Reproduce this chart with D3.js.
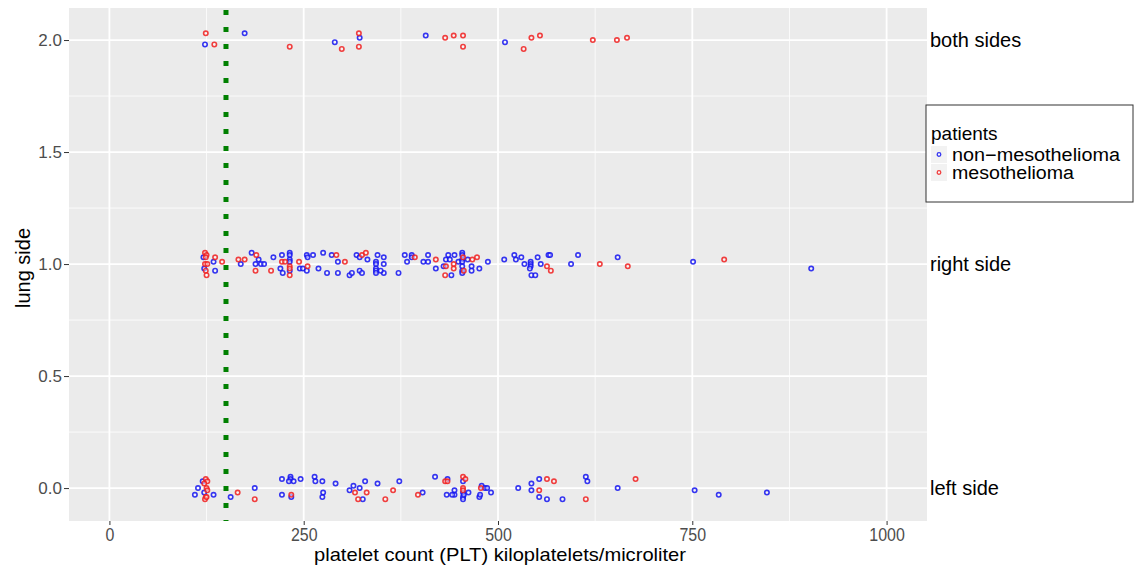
<!DOCTYPE html>
<html>
<head>
<meta charset="utf-8">
<script src="https://cdn.jsdelivr.net/npm/d3@7"></script>
<style>
  body { margin: 0; background: #fff; }
  svg { font-family: "Liberation Sans", Arial, sans-serif; }
</style>
</head>
<body>
<div id="chart"></div>
<script>
const width = 1139;
const height = 567;

// [platelet count, jittered lung side]
const bothBlue = [[174, 2.03], [123, 1.98], [290, 1.99], [322, 2.01], [407, 2.02], [509, 1.99]];
const bothRed = [[124, 2.03], [135, 1.98], [232, 1.97], [299, 1.96], [321, 2.03], [321, 1.97],
  [432, 2.01], [443, 2.02], [455, 2.02], [455, 1.97], [533, 1.96], [543, 2.01], [554, 2.02],
  [622, 2.0], [653, 2.0], [666, 2.01]];

const rightBlue = [[121, 1.03], [134, 1.01], [122, 0.98], [136, 0.97], [169, 1.0], [183, 1.05],
  [192, 1.02], [188, 1.0], [195, 1.0], [199, 1.0], [211, 1.03], [222, 1.04], [220, 0.98],
  [223, 0.96], [232, 1.05], [232, 1.04], [232, 1.02], [232, 1.01], [232, 0.97], [245, 0.98],
  [249, 0.98], [254, 0.97], [254, 1.04], [255, 1.03], [262, 1.04], [275, 1.05], [269, 0.98],
  [286, 1.04], [294, 1.01], [280, 0.96], [294, 0.96], [309, 0.95], [318, 1.04], [322, 1.03],
  [322, 0.97], [312, 0.96], [325, 0.96], [332, 1.02], [345, 1.04], [343, 1.01], [343, 1.0],
  [343, 0.98], [343, 0.97], [343, 0.96], [353, 1.03], [353, 1.0], [353, 0.96], [349, 0.97],
  [372, 0.96], [380, 1.04], [389, 1.04], [389, 1.03], [383, 1.01], [404, 1.01], [410, 1.01],
  [410, 1.04], [420, 0.98], [430, 0.99], [433, 1.02], [436, 1.04], [444, 1.04], [438, 1.02],
  [440, 0.95], [449, 1.01], [454, 1.05], [454, 1.04], [454, 1.02], [454, 1.01], [454, 0.99],
  [454, 0.97], [454, 0.96], [461, 1.02], [466, 0.99], [466, 0.97], [476, 0.98], [487, 1.01],
  [508, 1.02], [521, 1.04], [523, 1.02], [530, 1.03], [534, 1.0], [542, 1.01], [542, 1.0],
  [542, 0.99], [543, 0.95], [548, 0.95], [541, 0.98], [551, 1.03], [555, 1.0], [565, 1.04],
  [567, 1.04], [594, 1.0], [603, 1.04], [654, 1.03], [751, 1.01], [903, 0.98]];
const rightRed = [[123, 1.05], [125, 1.04], [124, 1.03], [123, 1.0], [126, 1.0], [124, 0.97],
  [125, 0.95], [136, 1.03], [145, 1.01], [166, 1.02], [174, 1.02], [189, 1.04], [188, 0.97],
  [208, 0.97], [222, 1.01], [226, 1.01], [232, 0.99], [232, 0.98], [232, 0.95], [244, 1.01],
  [255, 0.99], [292, 1.04], [303, 1.01], [325, 1.04], [330, 1.05], [393, 1.03], [420, 1.02],
  [433, 0.99], [432, 0.95], [443, 1.0], [443, 0.98], [455, 1.03], [456, 0.97], [467, 1.02],
  [473, 1.03], [563, 0.99], [568, 0.97], [631, 1.0], [667, 0.99], [791, 1.02]];

const leftBlue = [[120, 0.03], [114, 0.0], [122, -0.02], [110, -0.03], [134, -0.03], [156, -0.04],
  [187, 0.0], [222, 0.04], [233, 0.05], [233, 0.04], [237, 0.03], [231, 0.03], [246, 0.04],
  [222, -0.03], [234, -0.04], [264, 0.05], [265, 0.03], [274, 0.03], [291, 0.02], [275, -0.02],
  [274, -0.04], [309, -0.01], [314, 0.01], [322, 0.0], [326, -0.05], [329, 0.03], [345, 0.02],
  [373, 0.03], [403, -0.02], [419, 0.05], [435, 0.04], [434, -0.03], [444, -0.01], [444, -0.03],
  [441, -0.03], [455, 0.03], [455, -0.02], [455, -0.04], [455, -0.05], [456, -0.03], [462, -0.02],
  [479, 0.01], [483, 0.0], [486, 0.0], [476, -0.04], [477, -0.03], [491, -0.02], [526, 0.0],
  [543, 0.02], [543, -0.01], [553, 0.04], [553, -0.04], [563, -0.05], [583, -0.05], [613, 0.05],
  [615, 0.03], [654, 0.0], [753, -0.01], [784, -0.03], [846, -0.02]];
const leftRed = [[124, 0.04], [126, 0.03], [122, 0.02], [125, 0.0], [126, -0.01], [124, -0.04],
  [123, -0.05], [125, -0.04], [165, -0.02], [187, -0.05], [234, -0.03], [316, -0.02], [320, -0.05],
  [331, -0.02], [355, -0.05], [365, -0.01], [397, -0.03], [432, 0.03], [435, 0.03], [455, 0.05],
  [458, 0.04], [455, 0.0], [455, -0.01], [478, 0.0], [563, 0.04], [572, 0.03], [553, -0.01],
  [613, -0.05], [677, 0.04]];

const xTicks = [0, 250, 500, 750, 1000];
const xMinor = [125, 375, 625, 875];
const yTicks = [0, 0.5, 1, 1.5, 2];
const yMinor = [0.25, 0.75, 1.25, 1.75];
const sideLabels = [[2, 'both sides'], [1, 'right side'], [0, 'left side']];
const groups = ['non\u2212mesothelioma', 'mesothelioma'];
const cutoff = 150;

const blue = 'rgba(20,20,240,0.85)';
const red = 'rgba(240,30,30,0.85)';

const panel = { left: 69, right: 927, top: 8, bottom: 521 };
const x = d3.scaleLinear().domain([-52, 1052]).range([panel.left, panel.right]);
const y = d3.scaleLinear().domain([-0.147, 2.143]).range([panel.bottom, panel.top]);

const svg = d3.create('svg').attr('width', width).attr('height', height);

svg.append('rect')
  .attr('x', panel.left).attr('y', panel.top)
  .attr('width', panel.right - panel.left).attr('height', panel.bottom - panel.top)
  .attr('fill', '#ebebeb');

const grid = svg.append('g').attr('stroke', '#fff');
grid.selectAll('line.xminor').data(xMinor).join('line')
  .attr('x1', x).attr('x2', x).attr('y1', panel.top).attr('y2', panel.bottom)
  .attr('stroke-width', 0.8);
grid.selectAll('line.yminor').data(yMinor).join('line')
  .attr('y1', y).attr('y2', y).attr('x1', panel.left).attr('x2', panel.right)
  .attr('stroke-width', 0.8);
grid.selectAll('line.xmajor').data(xTicks).join('line')
  .attr('x1', x).attr('x2', x).attr('y1', panel.top).attr('y2', panel.bottom)
  .attr('stroke-width', 1.8);
grid.selectAll('line.ymajor').data(yTicks).join('line')
  .attr('y1', y).attr('y2', y).attr('x1', panel.left).attr('x2', panel.right)
  .attr('stroke-width', 1.8);

// cutoff line
svg.append('line')
  .attr('x1', x(cutoff)).attr('x2', x(cutoff))
  .attr('y1', panel.top + 2).attr('y2', panel.bottom)
  .attr('stroke', '#008000').attr('stroke-width', 5)
  .attr('stroke-dasharray', '5 12');

function drawPoints(data, color) {
  svg.append('g').selectAll('circle').data(data).join('circle')
    .attr('cx', (d) => x(d[0]))
    .attr('cy', (d) => y(d[1]))
    .attr('r', 2.2)
    .attr('fill', 'rgba(255,255,255,0.5)')
    .attr('stroke', color)
    .attr('stroke-width', 1.6);
}
drawPoints(bothBlue, blue);
drawPoints(rightBlue, blue);
drawPoints(leftBlue, blue);
drawPoints(bothRed, red);
drawPoints(rightRed, red);
drawPoints(leftRed, red);

// axes
const xAxis = d3.axisBottom(x).tickValues(xTicks).tickSize(4).tickPadding(3).tickFormat(d3.format('d'));
svg.append('g')
  .attr('transform', `translate(0,${panel.bottom})`)
  .call(xAxis)
  .call((g) => g.select('.domain').remove())
  .call((g) => g.selectAll('line').attr('stroke', '#333').attr('stroke-width', 1))
  .call((g) => g.selectAll('text').attr('font-size', 19).attr('fill', '#4d4d4d')
    .attr('transform', 'scale(0.84,1)'));

const yAxis = d3.axisLeft(y).tickValues(yTicks).tickSize(5).tickPadding(2).tickFormat(d3.format('.1f'));
svg.append('g')
  .attr('transform', `translate(${panel.left},0)`)
  .call(yAxis)
  .call((g) => g.select('.domain').remove())
  .call((g) => g.selectAll('line').attr('stroke', '#333').attr('stroke-width', 1))
  .call((g) => g.selectAll('text').attr('font-size', 17).attr('fill', '#4d4d4d'));

svg.append('text')
  .attr('x', 500).attr('y', 561)
  .attr('text-anchor', 'middle').attr('font-size', 19)
  .attr('textLength', 372).attr('lengthAdjust', 'spacingAndGlyphs')
  .text('platelet count (PLT) kiloplatelets/microliter');

svg.append('text')
  .attr('transform', 'translate(30,268) rotate(-90)')
  .attr('text-anchor', 'middle').attr('font-size', 20)
  .text('lung side');

// facet-style labels on the right
svg.append('g').selectAll('text').data(sideLabels).join('text')
  .attr('x', 930).attr('y', (d) => y(d[0]))
  .attr('dy', '0.35em').attr('font-size', 20)
  .text((d) => d[1]);

// legend
const legend = svg.append('g').attr('transform', 'translate(926,105)');
legend.append('rect')
  .attr('width', 207).attr('height', 97)
  .attr('fill', '#fff').attr('stroke', '#333').attr('stroke-width', 1);
legend.append('text').attr('x', 5).attr('y', 35).attr('font-size', 19).text('patients');
const item = legend.selectAll('g.item').data(groups).join('g')
  .attr('class', 'item')
  .attr('transform', (d, i) => `translate(5,${41 + i * 18})`);
item.append('rect').attr('width', 16).attr('height', 17).attr('fill', '#f2f2f2');
item.append('circle').attr('cx', 8).attr('cy', 8.5).attr('r', 1.8)
  .attr('fill', 'rgba(255,255,255,0.5)')
  .attr('stroke', (d, i) => (i ? red : blue)).attr('stroke-width', 1.3);
item.append('text').attr('x', 21).attr('y', 8.5).attr('dy', '0.35em')
  .attr('font-size', 18)
  .attr('textLength', (d, i) => (i ? 122 : 168)).attr('lengthAdjust', 'spacingAndGlyphs')
  .text((d) => d);

document.querySelector('#chart').appendChild(svg.node());
</script>
</body>
</html>
